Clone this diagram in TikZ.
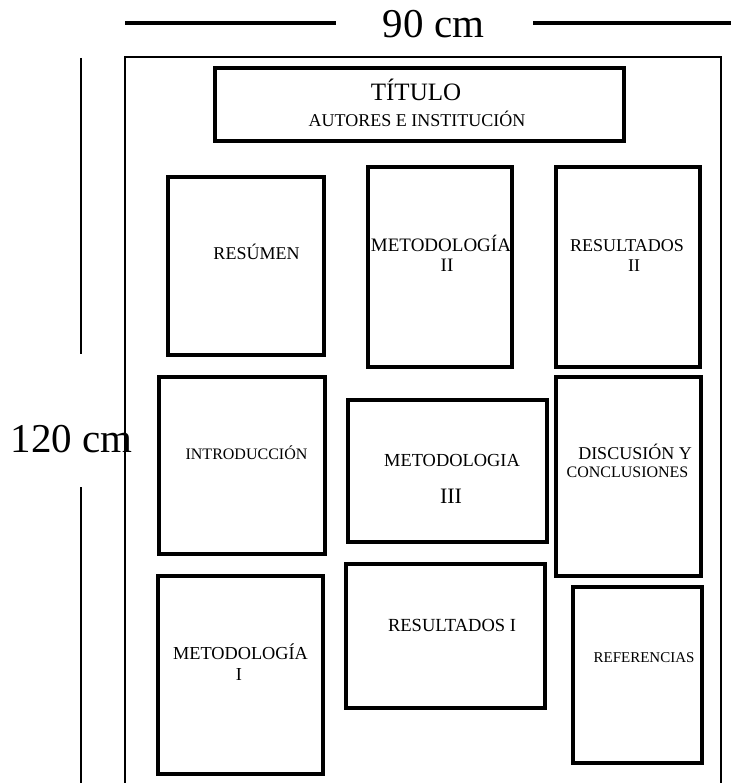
\documentclass[tikz,border=0pt]{standalone}
\usepackage{fontspec}
\setmainfont{Liberation Serif}
\newcommand{\fs}[1]{\fontsize{#1}{#1}\selectfont}
\begin{document}
\begin{tikzpicture}[x=1pt,y=-1pt,
  box/.style={draw, line width=3.2pt, inner sep=0pt},
  frameline/.style={line width=2.6pt},
  dimline/.style={line width=3.2pt},
  lbl/.style={anchor=base, inner sep=0pt, text=black}]
\useasboundingbox (0,0) rectangle (731,783);
% dimension marks
\coordinate (hA) at (125,23); \coordinate (hB) at (336,23);
\coordinate (hC) at (533,23); \coordinate (hD) at (731,23);
\coordinate (vA) at (81,58);  \coordinate (vB) at (81,354);
\coordinate (vC) at (81,487); \coordinate (vD) at (81,783);
\draw[dimline] (hA) -- (hB);
\draw[dimline] (hC) -- (hD);
\draw[line width=2.4pt] (vA) -- (vB);
\draw[line width=2.4pt] (vC) -- (vD);
\node[lbl, font=\fs{41}] (w90) at (433.5,38) {90 cm};
\node[lbl, font=\fs{41}] (h120) at (71.5,452) {120 cm};
% poster frame (open at the bottom)
\draw[frameline] (125,783) -- (125,57) -- (721,57) -- (721,783);
% boxes
\node[box, minimum width=409pt, minimum height=73pt] (titlebox) at (419.5,104.5) {};
\node[box, minimum width=156pt, minimum height=178pt] (resbox) at (246,266) {};
\node[box, minimum width=144pt, minimum height=200pt] (met2box) at (440,267) {};
\node[box, minimum width=144pt, minimum height=200pt] (res2box) at (628,267) {};
\node[box, minimum width=166pt, minimum height=177pt] (introbox) at (242,465.5) {};
\node[box, minimum width=199pt, minimum height=142pt] (met3box) at (447.5,471) {};
\node[box, minimum width=145pt, minimum height=199pt] (discbox) at (628.5,476.5) {};
\node[box, minimum width=165pt, minimum height=198pt] (met1box) at (240.5,675) {};
\node[box, minimum width=199pt, minimum height=144pt] (res1box) at (445.5,636) {};
\node[box, minimum width=129pt, minimum height=176pt] (refbox) at (637.5,675) {};
% labels
\node[lbl, font=\fs{25}] (t1) at (416,101) {TÍTULO};
\node[lbl, font=\fs{18}] (t2) at (417,127) {AUTORES E INSTITUCIÓN};
\node[lbl, font=\fs{18}] (lres) at (256.5,260) {RESÚMEN};
\node[lbl, font=\fs{19}] (lm2a) at (441,252) {METODOLOGÍA};
\node[lbl, font=\fs{19}] (lm2b) at (447,272) {II};
\node[lbl, font=\fs{18}] (lr2a) at (627,252) {RESULTADOS};
\node[lbl, font=\fs{18}] (lr2b) at (634,272) {II};
\node[lbl, font=\fs{16}] (lintro) at (246.5,459) {INTRODUCCIÓN};
\node[lbl, font=\fs{18.4}] (lm3a) at (452,466) {METODOLOGIA};
\node[lbl, font=\fs{22}] (lm3b) at (451,503) {III};
\node[lbl, font=\fs{18}] (lda) at (635,459) {DISCUSIÓN Y};
\node[lbl, font=\fs{16}] (ldb) at (627.5,477) {CONCLUSIONES};
\node[lbl, font=\fs{18.3}] (lm1a) at (240.5,659) {METODOLOGÍA};
\node[lbl, font=\fs{18.3}] (lm1b) at (239,680) {I};
\node[lbl, font=\fs{18.5}] (lr1) at (452,631) {RESULTADOS I};
\node[lbl, font=\fs{15}] (lref) at (644,662) {REFERENCIAS};
\end{tikzpicture}
\end{document}
